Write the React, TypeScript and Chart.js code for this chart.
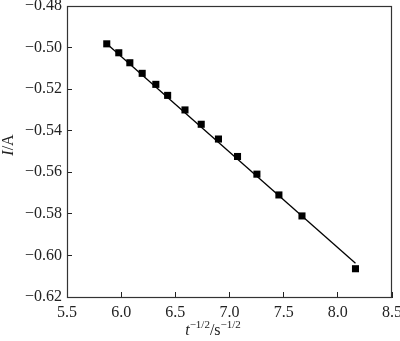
import React, { useEffect, useRef } from "react";
import { Chart, registerables } from "chart.js";

Chart.register(...registerables);

// Data
const xValues = [5.867, 5.978, 6.080, 6.194, 6.320, 6.429, 6.589, 6.739, 6.898, 7.074, 7.253, 7.456, 7.669, 8.163];
const yValues = [-0.4982, -0.5025, -0.5073, -0.5124, -0.5177, -0.5230, -0.5300, -0.5369, -0.5440, -0.5524, -0.5609, -0.5709, -0.5810, -0.6064];
// Linear fit end points
const fitX = [5.867, 8.163];
const fitY = [-0.4982, -0.6038];

const xTicks = [5.5, 6.0, 6.5, 7.0, 7.5, 8.0, 8.5];
const yTicks = [-0.62, -0.60, -0.58, -0.56, -0.54, -0.52, -0.50, -0.48];

const FONT = "'Liberation Serif', 'Times New Roman', serif";
const INK = "#222";

const titlePlugin = {
  id: "axisTitles",
  afterDatasetsDraw(chart: any) {
    const { ctx, chartArea } = chart;
    ctx.save();
    ctx.strokeStyle = "#333";
    ctx.lineWidth = 1.2;
    ctx.strokeRect(chartArea.left + 0.5, chartArea.top + 0.5, chartArea.right - chartArea.left - 1, chartArea.bottom - chartArea.top);
    ctx.restore();
  },
  afterDraw(chart: any) {
    const { ctx } = chart;
    ctx.save();
    ctx.fillStyle = INK;
    ctx.textBaseline = "alphabetic";
    ctx.textAlign = "left";
    const parts = [
      { t: "t", f: `italic 16px ${FONT}`, dy: 0 },
      { t: "\u22121/2", f: `11px ${FONT}`, dy: -7 },
      { t: "/s", f: `16px ${FONT}`, dy: 0 },
      { t: "\u22121/2", f: `11px ${FONT}`, dy: -7 },
    ];
    let total = 0;
    for (const p of parts) {
      ctx.font = p.f;
      total += ctx.measureText(p.t).width;
    }
    let x = 213 - total / 2;
    const base = 335;
    for (const p of parts) {
      ctx.font = p.f;
      ctx.fillText(p.t, x, base + p.dy);
      x += ctx.measureText(p.t).width;
    }
    ctx.translate(13, 145);
    ctx.rotate(-Math.PI / 2);
    const yparts = [
      { t: "I", f: `italic 16px ${FONT}` },
      { t: "/A", f: `16px ${FONT}` },
    ];
    let yt = 0;
    for (const p of yparts) {
      ctx.font = p.f;
      yt += ctx.measureText(p.t).width;
    }
    let yx = -yt / 2;
    for (const p of yparts) {
      ctx.font = p.f;
      ctx.fillText(p.t, yx, 0);
      yx += ctx.measureText(p.t).width;
    }
    ctx.restore();
  },
};

export default function App() {
  const ref = useRef<HTMLCanvasElement>(null);
  useEffect(() => {
    document.body.style.margin = "0";
    const canvas = ref.current;
    if (!canvas) return;
    const points = xValues.map((x, i) => ({ x, y: yValues[i] }));
    const fit = fitX.map((x, i) => ({ x, y: fitY[i] }));
    const chart = new Chart(canvas, {
      type: "scatter",
      data: {
        datasets: [
          {
            data: fit,
            showLine: true,
            borderColor: "#000",
            borderWidth: 1.3,
            pointRadius: 0,
            fill: false,
          },
          {
            data: points,
            pointStyle: "rect",
            pointRadius: 5,
            backgroundColor: "#000",
            borderColor: "#000",
            borderWidth: 0,
          },
        ],
      },
      options: {
        animation: false,
        responsive: true,
        maintainAspectRatio: false,
        layout: { padding: { top: 6, right: 8, left: 0, bottom: 0 } },
        plugins: { legend: { display: false }, tooltip: { enabled: false } },
        scales: {
          x: {
            type: "linear",
            position: "bottom",
            min: 5.5,
            max: 8.5,
            afterBuildTicks: (s: any) => { s.ticks = xTicks.map((v) => ({ value: v })); },
            afterFit: (s: any) => {
              s.height = 44;
              s.paddingLeft = 0;
              s.paddingRight = 0;
            },
            grid: { display: true, drawOnChartArea: false, drawTicks: true, tickLength: -5, tickColor: INK, tickWidth: 1 },
            border: { display: true, color: INK, width: 1 },
            ticks: {
              padding: 11,
              color: INK,
              font: { family: FONT, size: 16 },
              maxRotation: 0,
              callback: (v: any) => Number(v).toFixed(1),
            },
          },
          y: {
            type: "linear",
            position: "left",
            min: -0.62,
            max: -0.48,
            afterBuildTicks: (s: any) => { s.ticks = yTicks.map((v) => ({ value: v })); },
            afterFit: (s: any) => {
              s.width = 67;
              s.paddingTop = 0;
              s.paddingBottom = 0;
            },
            grid: { display: true, drawOnChartArea: false, drawTicks: true, tickLength: -5, tickColor: INK, tickWidth: 1 },
            border: { display: true, color: INK, width: 1 },
            ticks: {
              padding: 10,
              color: INK,
              font: { family: FONT, size: 16 },
              callback: (v: any) => {
                const n = Number(v);
                return (n < 0 ? "\u2212" : "") + Math.abs(n).toFixed(2);
              },
            },
          },
        },
      },
      plugins: [titlePlugin],
    });
    return () => chart.destroy();
  }, []);
  return (
    <div style={{ width: 400, height: 341, position: "relative" }}>
      <canvas ref={ref} />
    </div>
  );
}
